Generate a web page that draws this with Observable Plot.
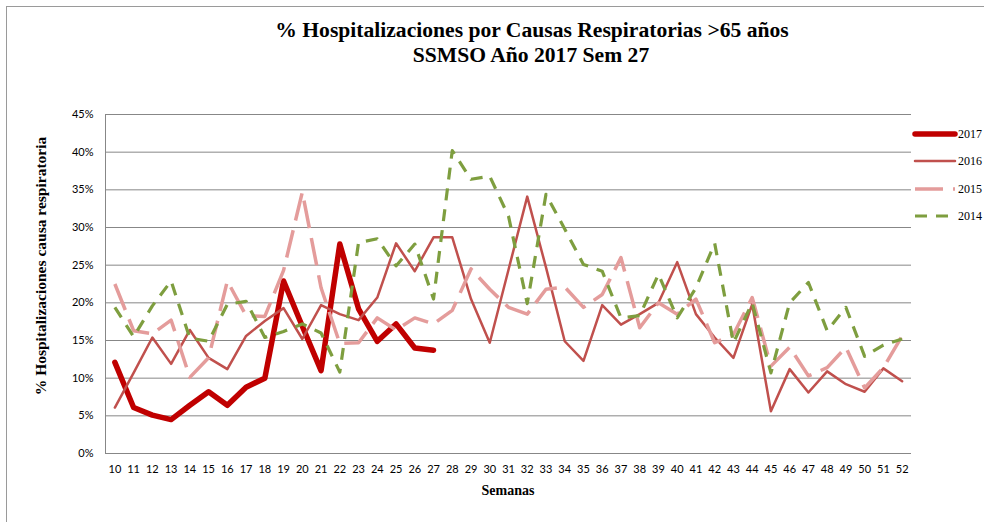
<!DOCTYPE html>
<html>
<head>
<meta charset="utf-8">
<script src="https://cdn.jsdelivr.net/npm/d3@7"></script>
<script src="https://cdn.jsdelivr.net/npm/@observablehq/plot@0.6"></script>
<style>
  html, body { margin: 0; padding: 0; background: #fff; }
  svg { display: block; }
</style>
</head>
<body>
<div id="chart"></div>
<script>
// ---- Data (values in %) ----
const weeks = [10,11,12,13,14,15,16,17,18,19,20,21,22,23,24,25,26,27,28,29,30,31,32,33,34,35,36,37,38,39,40,41,42,43,44,45,46,47,48,49,50,51,52];
const yTicks = [0,5,10,15,20,25,30,35,40,45];
const seriesNames = ["2017","2016","2015","2014"];

const values2017 = [12.1,6.1,5.1,4.5,6.4,8.2,6.4,8.8,10.0,22.9,16.9,11.0,27.8,19.2,14.9,17.2,14.0,13.7];
const values2016 = [6.1,10.7,15.4,11.9,16.4,12.7,11.2,15.6,17.6,19.3,15.2,19.7,18.5,17.7,20.7,27.9,24.2,28.7,28.7,20.5,14.7,24.4,34.1,24.7,14.9,12.3,19.7,17.1,18.5,20.0,25.4,18.5,15.4,12.7,19.8,5.6,11.2,8.1,10.9,9.2,8.2,11.3,9.6];
const values2015 = [22.5,16.3,15.9,17.7,10.1,12.7,22.9,18.3,18.2,24.3,34.7,22.0,14.6,14.7,18.0,16.4,18.0,17.2,19.0,24.5,21.8,19.4,18.5,21.8,22.1,19.4,21.1,26.0,16.7,20.0,18.5,20.5,14.7,15.8,20.7,11.6,14.1,10.3,11.4,14.1,8.7,11.4,15.6];
const values2014 = [19.4,15.5,19.6,22.9,15.3,14.9,19.8,20.2,15.4,16.2,17.2,16.0,10.8,28.0,28.5,24.9,27.8,20.5,40.2,36.4,36.8,31.5,19.9,34.4,29.8,25.1,24.2,18.0,18.3,23.8,18.0,22.0,27.9,14.7,20.0,10.7,20.0,22.7,16.3,19.4,12.9,14.4,15.2];

const title1 = "% Hospitalizaciones por Causas Respiratorias >65 años";
const title2 = "SSMSO Año 2017 Sem 27";
const yTitle = "% Hospitalizaciones causa respiratoria";
const xTitle = "Semanas";

// ---- Styles ----
const styles = {
  "2017": {stroke: "#C00000", strokeWidth: 5.5, dash: null},
  "2016": {stroke: "#C0504D", strokeWidth: 2.5, dash: null},
  "2015": {stroke: "#E49C9B", strokeWidth: 3.5, dash: "28,10"},
  "2014": {stroke: "#7E9E3F", strokeWidth: 3.2, dash: "12,9"}
};

const toRows = (vals) => vals.map((v, i) => ({week: weeks[i], value: v}));
const rows = {
  "2017": toRows(values2017),
  "2016": toRows(values2016),
  "2015": toRows(values2015),
  "2014": toRows(values2014)
};

const W = 984, H = 522;
const mL = 105, mR = 73, mT = 114, mB = 69;

const lineMark = (name) => Plot.lineY(rows[name], {
  x: "week", y: "value",
  stroke: styles[name].stroke,
  strokeWidth: styles[name].strokeWidth,
  strokeDasharray: styles[name].dash || undefined,
  strokeLinejoin: "round",
  strokeLinecap: styles[name].dash ? "butt" : "round"
});

const chart = Plot.plot({
  width: W, height: H,
  marginLeft: mL, marginRight: mR, marginTop: mT, marginBottom: mB,
  style: {fontFamily: "Lato, 'Liberation Sans', sans-serif", fontSize: "11px", color: "#000", background: "#fff", overflow: "visible"},
  x: {type: "point", domain: weeks, padding: 0.5, label: null},
  y: {domain: [0, 45], label: null},
  marks: [
    Plot.ruleY(yTicks, {stroke: "#878787", strokeWidth: 1}),
    Plot.axisY({ticks: yTicks, tickFormat: d => d + "%", tickSize: 0, tickPadding: 12, label: null, fill: "#000"}),
    Plot.axisX({tickSize: 0, tickPadding: 12, label: null, fill: "#000"}),
    lineMark("2017"),
    lineMark("2016"),
    lineMark("2015"),
    lineMark("2014")
  ]
});

const svg = d3.select(chart);
// outer chart border
svg.insert("rect", ":first-child")
  .attr("x", 6.5).attr("y", 6.5).attr("width", W).attr("height", H)
  .attr("fill", "none").attr("stroke", "#9a9a9a").attr("stroke-width", 1);
// left axis line
const ys = chart.scale("y");
svg.append("line")
  .attr("x1", mL + 0.5).attr("x2", mL + 0.5)
  .attr("y1", ys.apply(45)).attr("y2", ys.apply(0))
  .attr("stroke", "#878787");

const serif = "'Liberation Serif', 'DejaVu Serif', serif";
// Title
const tg = svg.append("g").attr("font-family", serif).attr("font-weight", "bold").attr("font-size", 21.6).attr("text-anchor", "middle").attr("fill", "#000");
tg.append("text").attr("x", 532).attr("y", 37).text(title1);
tg.append("text").attr("x", 531).attr("y", 62).text(title2);

// Axis titles
svg.append("text")
  .attr("transform", `translate(46,${266}) rotate(-90)`)
  .attr("text-anchor", "middle")
  .attr("font-family", serif).attr("font-weight", "bold").attr("font-size", 15.5)
  .text(yTitle);
svg.append("text")
  .attr("x", 508).attr("y", 495)
  .attr("text-anchor", "middle")
  .attr("font-family", serif).attr("font-weight", "bold").attr("font-size", 14)
  .text(xTitle);

// Legend
const lg = svg.append("g");
const legY = [134, 161, 189, 216];
seriesNames.forEach((name, i) => {
  const s = styles[name];
  lg.append("line")
    .attr("x1", 915).attr("x2", 955).attr("y1", legY[i]).attr("y2", legY[i])
    .attr("stroke", s.stroke).attr("stroke-width", s.strokeWidth)
    .attr("stroke-dasharray", s.dash)
    .attr("stroke-linecap", s.dash ? "butt" : "round");
  lg.append("text")
    .attr("x", 958).attr("y", legY[i]).attr("dy", "0.35em")
    .attr("text-anchor", "start")
    .attr("font-family", serif).attr("font-size", 12)
    .text(name);
});

document.getElementById("chart").appendChild(chart);
</script>
</body>
</html>
